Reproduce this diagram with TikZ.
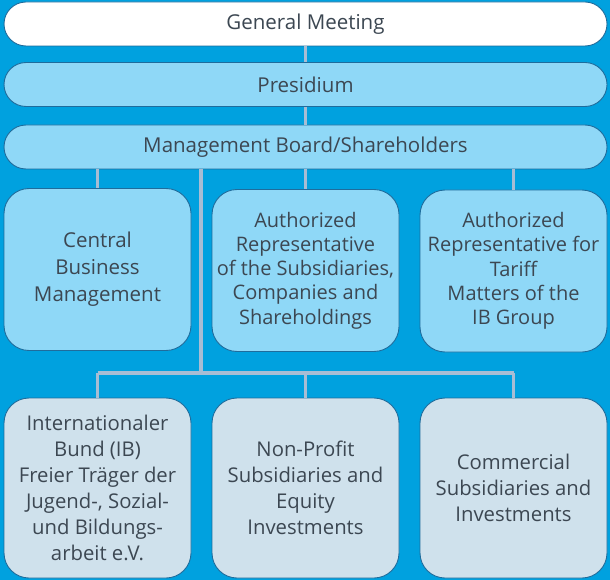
\documentclass[tikz,border=0pt]{standalone}
\usepackage{fontspec}
\setmainfont{Open Sans}
\definecolor{bgblue}{HTML}{00A1DF}
\definecolor{lightbox}{HTML}{8FD8F7}
\definecolor{palebox}{HTML}{CFE1EC}
\definecolor{edgeblue}{HTML}{1F6C9C}
\definecolor{linkgray}{HTML}{A8BDD4}
\definecolor{txt}{HTML}{3C4752}
\tikzset{
  base/.style={draw=edgeblue, line width=0.9pt, text=txt, align=center, inner sep=0pt,
    font=\fontsize{20.5}{24.5}\selectfont},
  pill/.style={base, fill=lightbox, minimum width=603pt, minimum height=44pt, rounded corners=22pt},
  midbox/.style={base, fill=lightbox, minimum width=187pt, minimum height=162pt, rounded corners=25pt,
    font=\fontsize{20}{24.2}\selectfont},
  lowbox/.style={base, fill=palebox, minimum width=187pt, minimum height=180pt, rounded corners=25pt,
    font=\fontsize{20.3}{26}\selectfont},
  link/.style={draw=linkgray, line width=3.5pt},
}
\begin{document}
\begin{tikzpicture}[x=1pt,y=-1pt]
\fill[bgblue] (0,0) rectangle (610,580);
\useasboundingbox (0,0) rectangle (610,580);
\node[pill, fill=white] (gm) at (305.5,24) {General Meeting};
\node[pill] (pres) at (305.5,84.5) {Presidium};
\node[pill] (mb) at (305.5,147) {Management Board/Shareholders};
\node[midbox, font=\fontsize{20.5}{27}\selectfont] (cbm) at (97.5,269.5) {Central\\Business\\Management};
\node[midbox] (ars) at (305.5,270.5) {Authorized\\Representative\\of the Subsidiaries,\\Companies and\\Shareholdings};
\node[midbox] (art) at (513.5,271) {Authorized\\Representative for\\Tariff\\Matters of the\\IB Group};
\node[lowbox] (ib) at (97.5,488) {Internationaler\\Bund (IB)\\Freier Träger der\\Jugend-, Sozial-\\und Bildungs-\\arbeit e.V.};
\node[lowbox] (np) at (305.5,488) {Non-Profit\\Subsidiaries and\\Equity\\Investments};
\node[lowbox] (cs) at (513.5,488) {Commercial\\Subsidiaries and\\Investments};
\coordinate (bus) at (201,373);
\path[link] (gm.south) -- (pres.north);
\path[link] (pres.south) -- (mb.north);
\path[link] (mb.south -| cbm.north) -- (cbm.north);
\path[link] (mb.south) -- (ars.north);
\path[link] (mb.south -| art.north) -- (art.north);
\path[link] (mb.south -| bus) -- (bus);
\path[link] (bus -| ib.north) -- (bus -| cs.north);
\path[link] (bus -| ib.north) -- (ib.north);
\path[link] (bus -| np.north) -- (np.north);
\path[link] (bus -| cs.north) -- (cs.north);
\end{tikzpicture}
\end{document}
